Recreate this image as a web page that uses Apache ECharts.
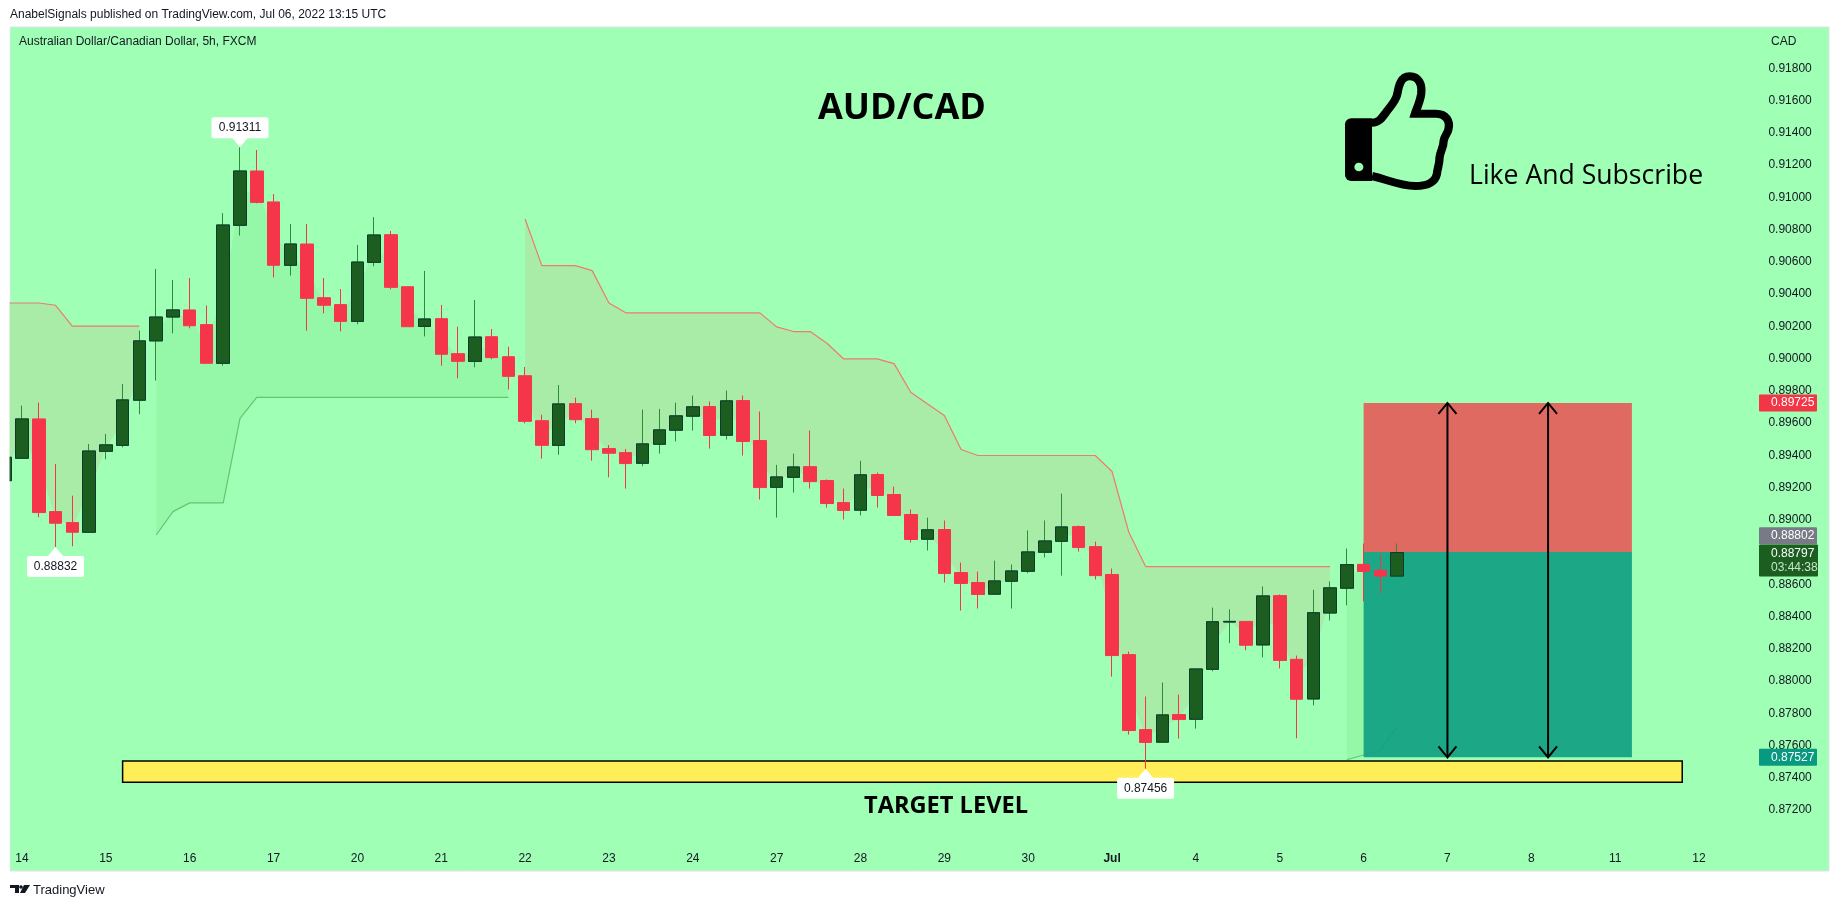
<!DOCTYPE html>
<html><head><meta charset="utf-8">
<style>html,body{margin:0;padding:0;background:#fff;overflow:hidden;width:1834px;height:907px}#c{position:absolute;left:-10px;top:0;width:1844px;height:907px}</style>
<script src="https://cdn.jsdelivr.net/npm/echarts@6/dist/echarts.min.js"></script>
</head><body><div id="c"></div>
<script>
const opens=[.89243,.89382,.89626,.89051,.88983,.88923,.89425,.89462,.89742,.90110,.90258,.90302,.90211,.89971,.90827,.91164,.90972,.90579,.90711,.90378,.90335,.90231,.90597,.90769,.90446,.90200,.90248,.90031,.89983,.90136,.90012,.89894,.89615,.89462,.89721,.89628,.89442,.89417,.89351,.89469,.89556,.89643,.89703,.89525,.89740,.89492,.89202,.89264,.89330,.89244,.89107,.89060,.89281,.89157,.89033,.88880,.88940,.88673,.88611,.88539,.88619,.88681,.88799,.88867,.88958,.88834,.88661,.88164,.87699,.87621,.87792,.87763,.88073,.88366,.88370,.88224,.88530,.88135,.87889,.88422,.88576,.88724,.88687,.88651];
const closes=[.89388,.89626,.89045,.88979,.88923,.89427,.89465,.89744,.90110,.90258,.90302,.90204,.89971,.90829,.91164,.90969,.90579,.90711,.90374,.90331,.90231,.90599,.90767,.90442,.90198,.90246,.90027,.89983,.90134,.90006,.89890,.89611,.89462,.89719,.89621,.89435,.89413,.89349,.89471,.89558,.89645,.89701,.89523,.89738,.89486,.89200,.89266,.89328,.89237,.89101,.89058,.89279,.89151,.89027,.88878,.88938,.88667,.88605,.88537,.88621,.88683,.88801,.88869,.88956,.88828,.88654,.88158,.87693,.87619,.87790,.87761,.88075,.88368,.88370,.88222,.88528,.88128,.87887,.88424,.88578,.88722,.88680,.88651,.88797];
const lows=[.89243,.89382,.89016,.88832,.88836,.88923,.89376,.89450,.89655,.89864,.90157,.90188,.89971,.89956,.90763,.90963,.90504,.90515,.90173,.90281,.90169,.90213,.90573,.90430,.90198,.90138,.89956,.89878,.89946,.89996,.89808,.89599,.89380,.89404,.89599,.89367,.89264,.89194,.89333,.89411,.89486,.89554,.89442,.89498,.89399,.89126,.89014,.89169,.89194,.89076,.89002,.89027,.89076,.89027,.88859,.88810,.88611,.88437,.88450,.88539,.88450,.88669,.88766,.88654,.88803,.88630,.88028,.87668,.87456,.87621,.87643,.87705,.88061,.88235,.88191,.88147,.88078,.87645,.87849,.88376,.88470,.88495,.88543,.88651];
const highs=[.89388,.89709,.89727,.89347,.89150,.89471,.89533,.89843,.90174,.90556,.90488,.90500,.90329,.90903,.91311,.91294,.91021,.90835,.90835,.90500,.90432,.90705,.90878,.90792,.90446,.90544,.90333,.90198,.90364,.90184,.90074,.89948,.89652,.89836,.89758,.89683,.89464,.89440,.89684,.89688,.89727,.89771,.89734,.89802,.89771,.89672,.89341,.89411,.89554,.89250,.89194,.89366,.89293,.89206,.89064,.89014,.88996,.88735,.88679,.88747,.88723,.88934,.88996,.89163,.88965,.88865,.88698,.88183,.87904,.87991,.87916,.88075,.88456,.88445,.88370,.88587,.88537,.88158,.88566,.88618,.88822,.88853,.88787,.88853];
const redTrend=[.90345,.90345,.90345,.90331,.90202,.90202,.90202,.90202,.90202,null,null,null,null,null,null,null,null,null,null,null,null,null,null,null,null,null,null,null,null,null,null,.90866,.90577,.90577,.90577,.90546,.90345,.90284,.90284,.90284,.90284,.90284,.90284,.90284,.90284,.90284,.90197,.90168,.90168,.90095,.89998,.89998,.89998,.89969,.89791,.89719,.89647,.89436,.89399,.89399,.89399,.89399,.89399,.89399,.89399,.89399,.89300,.88923,.88710,.88710,.88710,.88710,.88710,.88710,.88710,.88710,.88710,.88710,.88710,.88710,null,null,null,null];
const greenTrend=[null,null,null,null,null,null,null,null,null,.88906,.89051,.89105,.89105,.89105,.89630,.89760,.89760,.89760,.89760,.89760,.89760,.89760,.89760,.89760,.89760,.89760,.89760,.89760,.89760,.89760,.89760,null,null,null,null,null,null,null,null,null,null,null,null,null,null,null,null,null,null,null,null,null,null,null,null,null,null,null,null,null,null,null,null,null,null,null,null,null,null,null,null,null,null,null,null,null,null,null,null,null,.87512,.87541,.87572,.87718];
const redSegments=[[0,8],[31,79]];
const greenSegments=[[9,30],[80,83]];
const dayLabels=['14','15','16','17','20','21','22','23','24','27','28','29','30','Jul','4','5','6','7','8','11','12'];
const yTickHidden=[0.868,0.87,0.92];
const targetZone=[7,0.87504,100,0.87373];
const stopBox=[81,0.8880,97,0.89725];
const profitBox=[81,0.8880,97,0.87527];
const arrowIndexes=[86,92];
const arrowPrices=[0.89725,0.87527];
const noteIndexes=[14,3,68];
const notePrices=[0.91311,0.88832,0.87456];
const noteSides=[-1,1,1];
const tagPrices=[0.89725,0.88802,0.88797,0.87527];
const tagColors=['#F23645','#787B86','#1B5E20','#089981'];
const countdown='03:44:38';

const OX=10, BANDS=109, BAND=16.77, GL=OX+22-1.5*BAND;
const cats=[];for(let i=0;i<BANDS;i++){const k=(i-1)/5;cats.push(i>=1&&Number.isInteger(k)&&dayLabels[k]?dayLabels[k]:'');}
const FONT='"Liberation Sans", Arial, sans-serif';
const BG='#9FFFB5';
const chart=echarts.init(document.getElementById('c'),null,{renderer:'canvas',width:1844,height:907});
function fillItem(trend,color){return function(params,api){
  const a=api.value(0),b=api.value(1),pts=[],back=[];
  for(let j=a;j<=b;j++){pts.push(api.coord([j,trend[j]]));back.unshift(api.coord([j,(opens[j]+closes[j])/2]));}
  return {type:'polygon',shape:{points:pts.concat(back)},style:{fill:color}};
};}
function boxItem(fill,stroke,lw){return function(params,api){
  const p0=api.coord([api.value(0),api.value(1)]),p1=api.coord([api.value(2),api.value(3)]);
  return {type:'rect',shape:{x:Math.min(p0[0],p1[0]),y:Math.min(p0[1],p1[1]),width:Math.abs(p1[0]-p0[0]),height:Math.abs(p1[1]-p0[1])},style:{fill:fill,stroke:stroke,lineWidth:lw}};
};}
const upBodies=opens.map((o,i)=>closes[i]>=o?[o,closes[i],o,closes[i]]:['-','-','-','-']);
chart.setOption({
  animation:false,backgroundColor:'#fff',
  grid:{left:GL,top:36.2,width:BANDS*BAND,height:838.3,containLabel:false},
  xAxis:{type:'category',data:cats,boundaryGap:true,axisLine:{show:false},axisTick:{show:false},splitLine:{show:false},
    axisLabel:{inside:true,interval:0,hideOverlap:false,margin:10,color:'#131722',fontFamily:FONT,fontSize:12,
      formatter:v=>v==='Jul'?'{b|Jul}':v,rich:{b:{fontWeight:'bold',fontFamily:FONT,fontSize:12,color:'#131722'}}}},
  yAxis:{type:'value',position:'right',min:0.868,max:0.92,interval:0.002,scale:true,axisLine:{show:false},axisTick:{show:false},splitLine:{show:false},
    axisLabel:{inside:true,margin:13,showMinLabel:true,showMaxLabel:true,color:'#131722',fontFamily:FONT,fontSize:12,
      formatter:v=>yTickHidden.some(h=>Math.abs(h-v)<1e-6)?'':v.toFixed(5)}},
  graphic:{elements:[
    {type:'rect',z:-5,shape:{x:OX+10,y:27,width:1819,height:844},style:{fill:BG,stroke:'#E0E3EB',lineWidth:1}},
    {type:'rect',z:90,shape:{x:0,y:27,width:OX+9.5,height:844},style:{fill:'#fff'}},
    {type:'text',z:91,style:{text:'AnabelSignals published on TradingView.com, Jul 06, 2022 13:15 UTC',x:OX+10,y:15,fill:'#131722',font:'12px '+FONT,verticalAlign:'middle'}},
    {type:'text',z:91,style:{text:'Australian Dollar/Canadian Dollar, 5h, FXCM',x:OX+19,y:42,fill:'#131722',font:'12px '+FONT,verticalAlign:'middle'}},
    {type:'text',z:91,style:{text:'CAD',x:OX+1771,y:42,fill:'#131722',font:'12px '+FONT,verticalAlign:'middle'}},
    {type:'text',z:91,style:{text:'AUD/CAD',x:OX+902,y:109,fill:'#000',font:'bold 36px "Open Sans", sans-serif',align:'center',verticalAlign:'middle'}},
    {type:'text',z:91,style:{text:'Like And Subscribe',x:OX+1469,y:176,fill:'#000',font:'26.6px "Open Sans", sans-serif',verticalAlign:'middle'}},
    {type:'text',z:91,style:{text:'TARGET LEVEL',x:OX+946,y:806,fill:'#000',font:'bold 23.6px "Open Sans", sans-serif',align:'center',verticalAlign:'middle'}},
    {type:'text',z:91,style:{text:'TradingView',x:OX+33,y:890,fill:'#131722',font:'13px '+FONT,verticalAlign:'middle'}},
    {type:'polygon',z:91,shape:{points:[[OX+10,885],[OX+19,885],[OX+19,893],[OX+15,893],[OX+15,888],[OX+10,888]]},style:{fill:'#131722'}},
    {type:'circle',z:91,shape:{cx:OX+21,cy:887,r:1.8},style:{fill:'#131722'}},
    {type:'polygon',z:91,shape:{points:[[OX+24,885],[OX+30,885],[OX+25,893],[OX+20,893]]},style:{fill:'#131722'}}
  ]},
  series:[
    {type:'custom',name:'redFill',z:1,silent:true,data:redSegments,renderItem:fillItem(redTrend,'#A8ECA8')},
    {type:'custom',name:'greenFill',z:1,silent:true,data:greenSegments,renderItem:fillItem(greenTrend,'#95F8A9')},
    {type:'line',name:'redTrend',z:2,silent:true,data:redTrend,showSymbol:false,connectNulls:false,lineStyle:{color:'#EE7A70',width:1.2}},
    {type:'line',name:'greenTrend',z:2,silent:true,data:greenTrend,showSymbol:false,connectNulls:false,lineStyle:{color:'#66C46E',width:1.2}},
    {type:'custom',name:'target',z:3,silent:true,data:[targetZone],renderItem:boxItem('#FFEE58','#000',1.5)},
    {type:'custom',name:'stop',z:3,silent:true,data:[stopBox],renderItem:boxItem('rgba(228,90,88,.9)',null,0)},
    {type:'custom',name:'profit',z:3,silent:true,data:[profitBox],renderItem:boxItem('rgba(13,159,130,.9)',null,0)},
    {type:'candlestick',name:'AUDCAD',z:5,silent:true,barWidth:13,
      data:opens.map((o,i)=>[o,closes[i],lows[i],highs[i]]),
      itemStyle:{color:'#2E8B3E',color0:'#F5364A',borderColor:'#2E8B3E',borderColor0:'#F5364A',borderWidth:1}},
    {type:'candlestick',name:'upBodies',z:6,silent:true,barWidth:13,data:upBodies,
      itemStyle:{color:'#1B5E20',color0:'#1B5E20',borderColor:'#0D3B2E',borderColor0:'#0D3B2E',borderWidth:1}},
    {type:'custom',name:'arrows',z:7,silent:true,data:arrowIndexes.map(i=>[i,arrowPrices[0],arrowPrices[1]]),renderItem:function(p,api){
      const t=api.coord([api.value(0),api.value(1)]),b=api.coord([api.value(0),api.value(2)]);
      const st={stroke:'#000',lineWidth:2,fill:'none'};
      return {type:'group',children:[
        {type:'line',shape:{x1:t[0],y1:t[1],x2:b[0],y2:b[1]},style:st},
        {type:'polyline',shape:{points:[[t[0]-9,t[1]+11],[t[0],t[1]],[t[0]+9,t[1]+11]]},style:st},
        {type:'polyline',shape:{points:[[b[0]-9,b[1]-11],[b[0],b[1]],[b[0]+9,b[1]-11]]},style:st}
      ]};
    }},
    {type:'custom',name:'notes',z:8,silent:true,data:noteIndexes.map((i,k)=>[i,notePrices[k],noteSides[k]]),renderItem:function(p,api){
      const c=api.coord([api.value(0),api.value(1)]),s=api.value(2),w=57,h=21,gap=9;
      const y=s<0?c[1]-gap-h:c[1]+gap;
      return {type:'group',children:[
        {type:'rect',shape:{x:c[0]-w/2,y:y,width:w,height:h,r:2},style:{fill:'#fff'}},
        {type:'polygon',shape:{points:[[c[0],c[1]],[c[0]-8,c[1]+s*gap+s*0.5],[c[0]+8,c[1]+s*gap+s*0.5]]},style:{fill:'#fff'}},
        {type:'text',style:{text:api.value(1).toFixed(5),x:c[0],y:y+h/2,fill:'#131722',font:'12px '+FONT,align:'center',verticalAlign:'middle'}}
      ]};
    }},
    {type:'custom',name:'tags',z:9,silent:true,data:tagPrices.map(v=>[0,v]),renderItem:function(p,api){
      const i=p.dataIndex,v=api.value(1),y=api.coord([0,v])[1],x=OX+1759,w=58;
      const col=tagColors[i],txt=v.toFixed(5);
      if(i===2){return {type:'group',children:[
        {type:'rect',shape:{x:x,y:y-8,width:w+1,height:32,r:1},style:{fill:col}},
        {type:'text',style:{text:txt,x:x+12,y:y+1,fill:'#fff',font:'12px '+FONT,verticalAlign:'middle'}},
        {type:'text',style:{text:countdown,x:x+12,y:y+15,fill:'#C8E6C9',font:'12px '+FONT,verticalAlign:'middle'}}]};}
      const dy=i===1?-16:0;
      return {type:'group',children:[
        {type:'rect',shape:{x:x,y:y-8.5+dy,width:w,height:17,r:1},style:{fill:col}},
        {type:'text',style:{text:txt,x:x+12,y:y+dy,fill:'#fff',font:'12px '+FONT,verticalAlign:'middle'}}]};
    }},
    {type:'custom',name:'thumbIcon',z:10,silent:true,data:[[0,0.9]],renderItem:function(){
      return {type:'group',x:OX+1300,y:1,scaleX:1/2.888,scaleY:1/3,children:[
        {type:'path',shape:{pathData:'M208 365C232 365 240 345 252 330C262 316 278 300 282 280C286 255 292 226 318 226C345 226 356 250 352 280C348 305 338 325 334 338L395 338C425 338 438 360 432 385C430 397 420 405 418 420C418 440 408 450 406 470C406 490 400 500 398 520C392 545 370 555 335 555C290 555 250 535 208 525',x:208,y:226,width:222,height:329,layout:'cover'},style:{fill:'none',stroke:'#000',lineWidth:24}},
        {type:'rect',shape:{x:130,y:352,width:78,height:188,r:[18,0,0,18]},style:{fill:'#000'}},
        {type:'circle',shape:{cx:170,cy:498,r:13},style:{fill:BG}}
      ]};
    }}
  ]
});
</script></body></html>
